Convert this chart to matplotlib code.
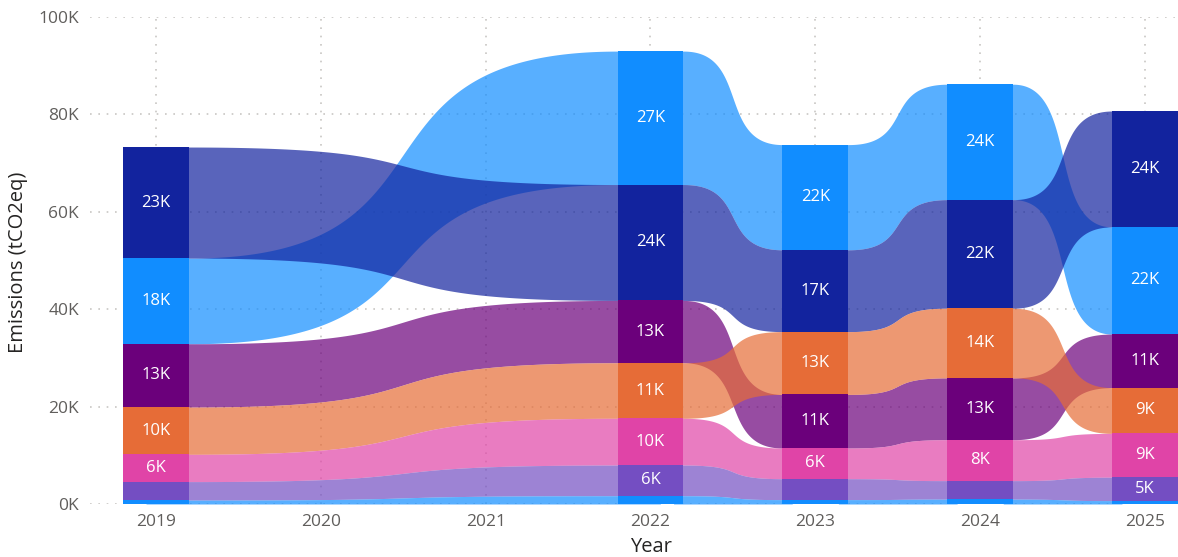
# Ribbon chart of yearly emissions by category
import matplotlib.pyplot as plt
import numpy as np

plt.rcParams['font.family'] = ['Open Sans', 'DejaVu Sans']

years = [2019, 2020, 2021, 2022, 2023, 2024, 2025]
bar_years = [2019, 2022, 2023, 2024, 2025]

# values in thousand tCO2eq, one entry per bar year
cat_a = [17.6, 27.4, 21.6, 23.7, 22.0]   # light blue
cat_b = [22.8, 23.8, 16.8, 22.3, 23.8]   # navy
cat_c = [13.0, 12.8, 11.0, 12.7, 11.0]   # purple
cat_d = [9.7, 11.4, 12.9, 14.3, 9.4]     # orange
cat_e = [5.6, 9.6, 6.3, 8.4, 9.0]        # pink
cat_f = [3.8, 6.3, 4.3, 3.8, 4.8]        # violet
cat_g = [0.8, 1.7, 0.9, 1.0, 0.7]        # small blue

colors = ['#118DFF', '#12239E', '#6B007B', '#E66C37', '#E044A7', '#744EC2', '#118DFF']

vals = np.array([cat_a, cat_b, cat_c, cat_d, cat_e, cat_f, cat_g]) * 1000
n, m = vals.shape

# ribbon chart: biggest value on top at each year
lo = np.zeros_like(vals)
hi = np.zeros_like(vals)
for j in range(m):
    base = 0
    for i in np.argsort(vals[:, j]):
        lo[i, j] = base
        base += vals[i, j]
        hi[i, j] = base

bw = 0.4
c = 0.667
t = np.linspace(0, 1, 200)
xb = 3 * (1 - t) ** 2 * t * c + 3 * (1 - t) * t ** 2 * (1 - c) + t ** 3
yb = 3 * t ** 2 - 2 * t ** 3
# flat bits under the bars so no seam shows at the bar edges
xb = np.concatenate([[-0.1], xb, [1.1]])
yb = np.concatenate([[0], yb, [1]])

fig = plt.figure(figsize=(11.78, 5.57), dpi=100)
ax = fig.add_axes([90 / 1178, 53 / 557, 1088 / 1178, 487 / 557])

for i in range(n):
    for j in range(m - 1):
        x0 = bar_years[j] + bw / 2
        x1 = bar_years[j + 1] - bw / 2
        xs = x0 + (x1 - x0) * xb
        lower = lo[i, j] + (lo[i, j + 1] - lo[i, j]) * yb
        upper = hi[i, j] + (hi[i, j + 1] - hi[i, j]) * yb
        ax.fill_between(xs, lower, upper, color=colors[i], alpha=0.7, lw=0, zorder=2)

for i in range(n):
    ax.bar(bar_years, vals[i], bottom=lo[i], width=bw, color=colors[i], lw=0, zorder=3)
    for j in range(m):
        if vals[i, j] >= 4500:
            ax.text(bar_years[j], lo[i, j] + vals[i, j] / 2, f"{vals[i, j] / 1000:.0f}K",
                    ha='center', va='center', color='white', fontsize=12, zorder=4)

ax.set_xlim(2018.6, 2025.2)
ax.set_ylim(0, 100000)
ax.set_xticks(years)
ax.set_xticklabels([str(y) for y in years])
yt = np.arange(0, 100001, 20000)
ax.set_yticks(yt)
ax.set_yticklabels([f"{v // 1000}K" for v in yt])
ax.tick_params(length=0, labelsize=12.5, labelcolor='#605E5C')
ax.tick_params(axis='y', pad=8)
ax.tick_params(axis='x', pad=7)
ax.grid(True, color='#C8C6C4', linestyle=(0, (1, 4)), linewidth=1.2, zorder=0)
ax.set_axisbelow(True)
for s in ax.spines.values():
    s.set_visible(False)

fig.text(18 / 1178, 1 - 262 / 557, "Emissions (tCO2eq)", rotation=90, ha='center', va='center',
         fontsize=14.5, color='#252423')
fig.text(651 / 1178, 1 - 547 / 557, "Year", ha='center', va='center', fontsize=14.5, color='#252423')

plt.savefig("out.png", dpi=100)
